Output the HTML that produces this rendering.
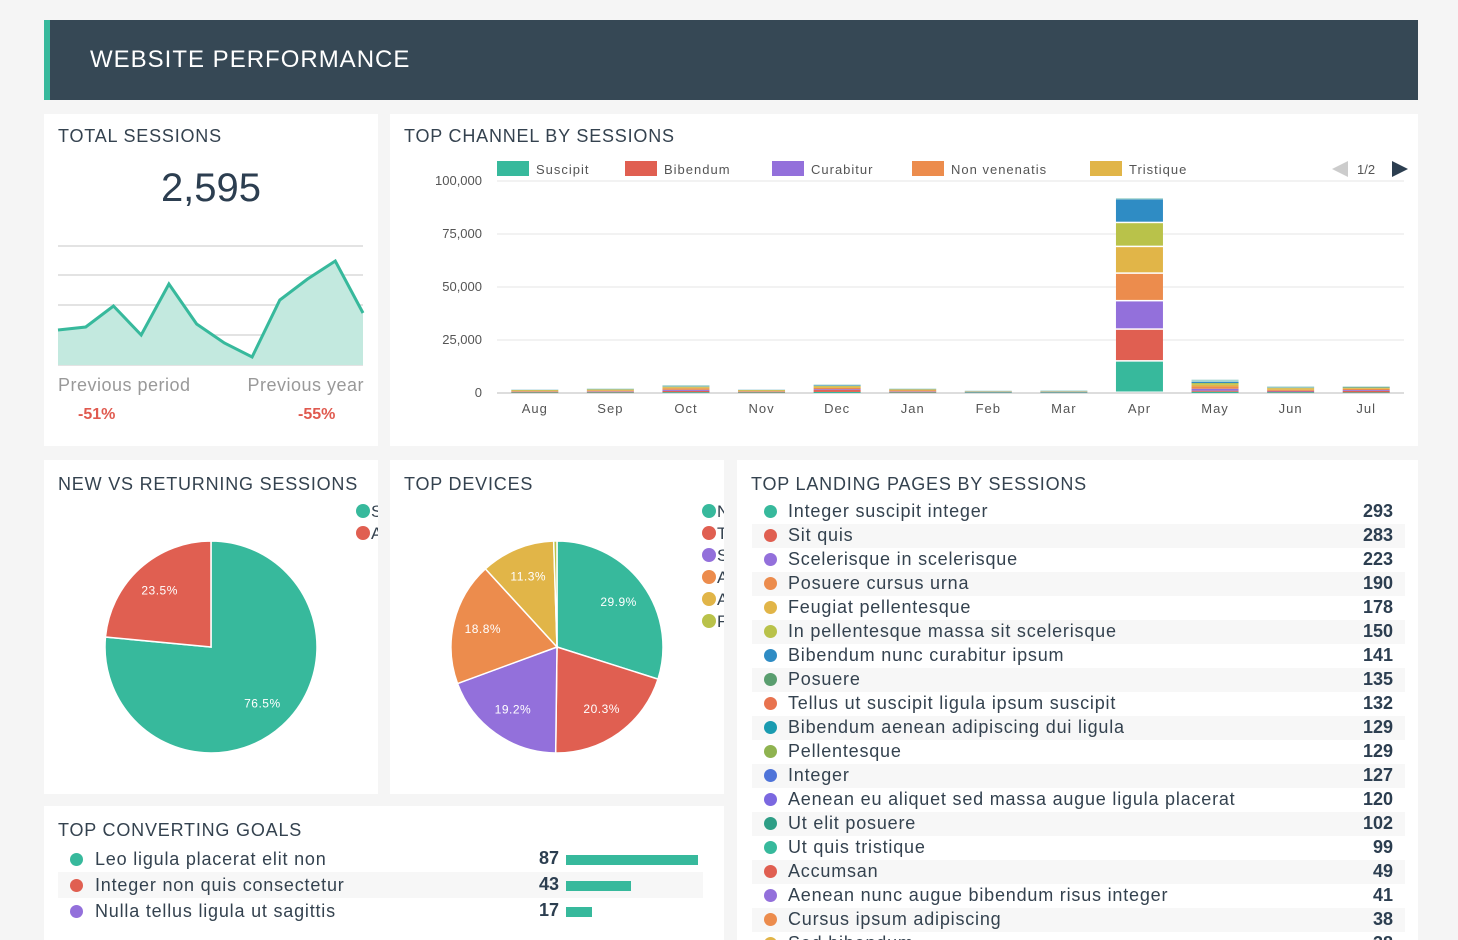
<!DOCTYPE html>
<html><head><meta charset="utf-8">
<style>
body{margin:0;width:1458px;height:940px;background:#f5f5f5;font-family:"Liberation Sans",sans-serif;color:#34495e;overflow:hidden;position:relative}
.p{position:absolute;background:#fff;overflow:hidden}
.t{position:absolute;font-size:18px;letter-spacing:0.8px;color:#34424f;white-space:nowrap}
svg text{font-family:"Liberation Sans",sans-serif}
</style></head><body>
<div style="position:absolute;left:44px;top:20px;width:1374px;height:80px;background:#364855;border-left:6px solid #37b99c;box-sizing:border-box">
<div style="position:absolute;left:40px;top:26px;color:#fff;font-size:24px;letter-spacing:1px">WEBSITE PERFORMANCE</div></div>

<div class="p" style="left:44px;top:114px;width:334px;height:332px">
<div class="t" style="left:14px;top:12px">TOTAL SESSIONS</div>
<div style="position:absolute;left:0;width:334px;top:52px;text-align:center;font-size:40px;color:#2c3e50">2,595</div>
<svg id="spark" width="334" height="332" style="position:absolute;left:0;top:0"></svg>
<div style="position:absolute;left:14px;top:261px;font-size:18px;color:#999;letter-spacing:.5px">Previous period</div>
<div style="position:absolute;right:14px;top:261px;font-size:18px;color:#999;letter-spacing:.5px">Previous year</div>
<div style="position:absolute;left:34px;top:292px;font-size:16px;color:#e05a4f;font-weight:bold">-51%</div>
<div style="position:absolute;left:254px;top:292px;font-size:16px;color:#e05a4f;font-weight:bold">-55%</div>
</div>

<div class="p" style="left:390px;top:114px;width:1028px;height:332px">
<div class="t" style="left:14px;top:12px">TOP CHANNEL BY SESSIONS</div>
<svg id="bars" width="1028" height="332" style="position:absolute;left:0;top:0"></svg>
</div>

<div class="p" style="left:44px;top:460px;width:334px;height:334px">
<div class="t" style="left:14px;top:14px">NEW VS RETURNING SESSIONS</div>
<svg id="pie1" width="334" height="334" style="position:absolute;left:0;top:0"></svg>
</div>

<div class="p" style="left:390px;top:460px;width:334px;height:334px">
<div class="t" style="left:14px;top:14px">TOP DEVICES</div>
<svg id="pie2" width="334" height="334" style="position:absolute;left:0;top:0"></svg>
</div>

<div class="p" style="left:737px;top:460px;width:681px;height:480px">
<div class="t" style="left:14px;top:14px">TOP LANDING PAGES BY SESSIONS</div>
<div id="lp"></div>
</div>

<div class="p" style="left:44px;top:806px;width:680px;height:134px">
<div class="t" style="left:14px;top:14px">TOP CONVERTING GOALS</div>
<div id="goals"></div>
</div>

<script>
const NS="http://www.w3.org/2000/svg";
function mk(p,tag,a){const e=document.createElementNS(NS,tag);for(const k in a)e.setAttribute(k,a[k]);p.appendChild(e);return e;}

// Sparkline
const sparkValues=[35,38,59,30,81,41,22,8,65,86,104,52];
{
const s=document.getElementById('spark');
const x0=14,x1=319,yb=251,sc=1.0;
[0,30,60,90,119].forEach(v=>{const l=mk(s,'line',{x1:x0,x2:x1,y1:yb-v,y2:yb-v,stroke:'#e3e3e3','stroke-width':2});});
const X=i=>x0+i*(x1-x0)/(sparkValues.length-1),Y=v=>yb-v*sc;
let d=sparkValues.map((v,i)=>(i?'L':'M')+X(i)+','+Y(v)).join(' ');
const a=mk(s,'path',{d:d+` L${x1},${yb} L${x0},${yb} Z`,fill:'#c3e9df'});

const l=mk(s,'path',{d:d,fill:'none',stroke:'#37b99c','stroke-width':3,'stroke-linejoin':'miter'});

}

// Bar chart
const months=['Aug','Sep','Oct','Nov','Dec','Jan','Feb','Mar','Apr','May','Jun','Jul'];
const seriesNames=['Suscipit','Bibendum','Curabitur','Non venenatis','Tristique','Pellentesque','Integer','Posuere'];
const seriesColors=['#37b99c','#e05f51','#9370db','#ec8c4d','#e1b548','#b9c24a','#2f8cc4','#a6d6d0'];
const sSuscipit=[300,300,400,300,500,300,300,300,14800,600,400,300];
const sBibendum=[200,300,600,200,900,300,100,100,15000,500,300,700];
const sCurabitur=[100,200,500,100,400,200,100,100,13400,900,300,400];
const sNonVenenatis=[300,300,700,300,600,400,100,100,13000,1100,500,500];
const sTristique=[300,400,500,300,600,400,100,100,12600,800,700,400];
const sPellentesque=[200,300,300,200,400,200,100,100,11300,800,300,300];
const sInteger=[100,100,200,100,300,100,100,100,11200,600,200,200];
const sPosuere=[100,200,500,100,300,200,200,300,600,1000,400,300];
const seriesVals=[sSuscipit,sBibendum,sCurabitur,sNonVenenatis,sTristique,sPellentesque,sInteger,sPosuere];
const yTicks=[0,25000,50000,75000,100000];
{
const s=document.getElementById('bars');
const px0=107,px1=1014,py0=279,py1=67,ymax=100000;
const Y=v=>py0-(py0-py1)*v/ymax;
const bw=(px1-px0)/months.length;
const X=i=>px0+bw*(i+0.5);
yTicks.forEach(t=>{
 const l=mk(s,'line',{x1:px0,x2:px1,y1:Y(t),y2:Y(t),stroke:t?'#e6e6e6':'#ddd','stroke-width':t?1:2});
 
 const tx=mk(s,'text',{x:92,y:Y(t)+4,'text-anchor':'end','font-size':13,fill:'#555'});tx.textContent=t.toLocaleString('en-US');
 
});
months.forEach((m,i)=>{
 let acc=0;
 seriesVals.forEach((arr,k)=>{
  const v=arr[i];const y0=Y(acc),y1=Y(acc+v);acc+=v;
  const r=mk(s,'rect',{x:X(i)-23.5,y:y1,width:47,height:Math.max(0,y0-y1-(v>3000?1.5:0)),fill:seriesColors[k]});
  
 });
 const tx=mk(s,'text',{x:X(i),y:299,'text-anchor':'middle','font-size':13,fill:'#555','letter-spacing':1});tx.textContent=m;
 
});
const lx=[107,235,382,522,700];
seriesNames.slice(0,5).forEach((n,k)=>{
 const g=mk(s,'g',{});
 mk(g,'rect',{x:lx[k],y:47,width:32,height:15,fill:seriesColors[k]});
 const t=mk(g,'text',{x:lx[k]+39,y:60,'font-size':13,fill:'#555','letter-spacing':1});t.textContent=n;
});
const pp=mk(s,'polygon',{points:'942,55 958,47 958,63',fill:'#ccc'});
const pt=mk(s,'text',{x:967,y:60,'font-size':13,fill:'#555'});pt.textContent='1/2';
const np=mk(s,'polygon',{points:'1018,55 1002,47 1002,63',fill:'#2c3e50'});
}

// Pies
const pie1Labels=['S','A'];
const pie1Values=[76.5,23.5];
const pie1Colors=['#37b99c','#e05f51'];
const pie2Labels=['N','T','S','A','A','F'];
const pie2Values=[29.9,20.3,19.2,18.8,11.3,0.5];
const pie2Colors=['#37b99c','#e05f51','#9370db','#ec8c4d','#e1b548','#b9c24a'];
function pie(id,vals,cols,labs,name){
 const s=document.getElementById(id);
 const cx=167,cy=187,r=106;const tot=vals.reduce((a,b)=>a+b,0);
 let a=-Math.PI/2;
 vals.forEach((v,i)=>{
  const da=v/tot*2*Math.PI,a2=a+da;
  const p=`M${cx},${cy} L${cx+r*Math.cos(a)},${cy+r*Math.sin(a)} A${r},${r} 0 ${da>Math.PI?1:0} 1 ${cx+r*Math.cos(a2)},${cy+r*Math.sin(a2)} Z`;
  const e=mk(s,'path',{d:p,fill:cols[i],stroke:'#fff','stroke-width':1.5});
  
  if(v>5){const m=(a+a2)/2,rr=r*0.72;
   const t=mk(s,'text',{x:cx+rr*Math.cos(m),y:cy+rr*Math.sin(m)+4,'text-anchor':'middle','font-size':12,fill:'#fff','letter-spacing':.5});t.textContent=v.toFixed(1)+'%';
   }
  a=a2;
 });
 labs.forEach((l,i)=>{
  const g=mk(s,'g',{});
  mk(g,'circle',{cx:319,cy:51+i*22,r:7,fill:cols[i]});
  const t=mk(g,'text',{x:327,y:57+i*22,'font-size':17,fill:'#34424f'});t.textContent=l;
 });
}
pie('pie1',pie1Values,pie1Colors,pie1Labels,'new-returning');
pie('pie2',pie2Values,pie2Colors,pie2Labels,'devices');

// Landing pages
const lpNames=['Integer suscipit integer','Sit quis','Scelerisque in scelerisque','Posuere cursus urna','Feugiat pellentesque','In pellentesque massa sit scelerisque','Bibendum nunc curabitur ipsum','Posuere','Tellus ut suscipit ligula ipsum suscipit','Bibendum aenean adipiscing dui ligula','Pellentesque','Integer','Aenean eu aliquet sed massa augue ligula placerat','Ut elit posuere','Ut quis tristique','Accumsan','Aenean nunc augue bibendum risus integer','Cursus ipsum adipiscing','Sed bibendum'];
const lpValues=[293,283,223,190,178,150,141,135,132,129,129,127,120,102,99,49,41,38,38];
const lpColors=['#37b99c','#e05f51','#9370db','#ec8c4d','#e1b548','#b9c24a','#2f8cc4','#5a9e6f','#e8734f','#1a9bb0','#8fb350','#4f74d9','#7b68e0','#2e9e86','#37b99c','#e05f51','#9370db','#ec8c4d','#e1b548'];
{
const c=document.getElementById('lp');
lpNames.forEach((n,i)=>{
 const r=document.createElement('div');
 
 
 r.style.cssText=`position:absolute;left:15px;width:653px;top:${40+i*24}px;height:24px;background:${i%2?'#f7f7f7':'#fff'}`;
 r.innerHTML=`<span style="position:absolute;left:12px;top:5px;width:13px;height:13px;border-radius:50%;background:${lpColors[i]}"></span><span style="position:absolute;left:36px;top:1px;font-size:18px;letter-spacing:.8px;color:#34424f;white-space:nowrap">${n}</span><span style="position:absolute;right:12px;top:1px;font-size:18px;font-weight:bold;color:#2c3e50">${lpValues[i]}</span>`;
 c.appendChild(r);
});
}

// Goals
const goalNames=['Leo ligula placerat elit non','Integer non quis consectetur','Nulla tellus ligula ut sagittis'];
const goalValues=[87,43,17];
const goalColors=['#37b99c','#e05f51','#9370db'];
{
const c=document.getElementById('goals');const max=87,bwMax=132;
goalNames.forEach((n,i)=>{
 const r=document.createElement('div');
 
 
 r.style.cssText=`position:absolute;left:14px;width:645px;top:${40+i*26}px;height:26px;background:${i%2?'#f7f7f7':'#fff'}`;
 r.innerHTML=`<span style="position:absolute;left:12px;top:7px;width:13px;height:13px;border-radius:50%;background:${goalColors[i]}"></span><span style="position:absolute;left:37px;top:3px;font-size:18px;letter-spacing:.8px;color:#34424f;white-space:nowrap">${n}</span><span style="position:absolute;right:144px;top:2px;font-size:18px;font-weight:bold;color:#2c3e50">${goalValues[i]}</span><span style="position:absolute;left:508px;top:9px;height:10px;width:${goalValues[i]/max*bwMax}px;background:#37b99c"></span>`;
 c.appendChild(r);
});
}
</script>
</body></html>
